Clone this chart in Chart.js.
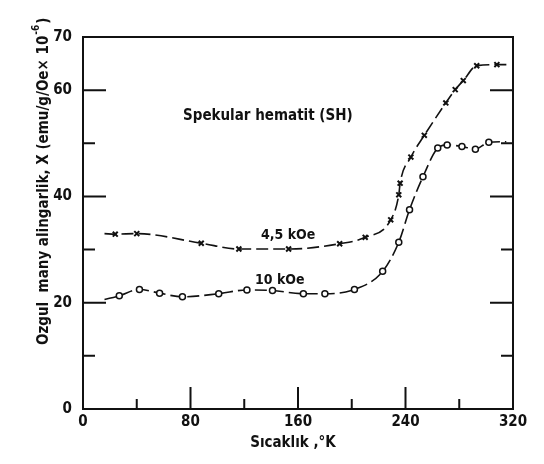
<!DOCTYPE html>
<html>
<head>
<meta charset="utf-8">
<script src="https://cdn.jsdelivr.net/npm/chart.js@4"></script>
<style>
  html, body { margin: 0; padding: 0; background: #fff; }
  #wrap { width: 544px; height: 464px; position: relative; }
</style>
</head>
<body>
<div id="wrap"><canvas id="chart"></canvas></div>
<script>
// temperature (K) and susceptibility (x 10^-6 emu/g/Oe)
const tempHigh = [16, 24, 40, 88, 116, 153, 191, 210, 229, 235, 236, 244, 254, 270, 277, 283, 293, 308, 316];
const chiHigh  = [33.0, 32.9, 33.0, 31.2, 30.1, 30.1, 31.1, 32.3, 35.6, 40.3, 42.5, 47.4, 51.5, 57.6, 60.1, 61.8, 64.6, 64.8, 64.8];

const tempLow = [16, 27, 42, 57, 74, 101, 122, 141, 164, 180, 202, 223, 235, 243, 253, 264, 271, 282, 292, 302, 315];
const chiLow  = [20.6, 21.3, 22.5, 21.8, 21.1, 21.7, 22.4, 22.3, 21.7, 21.7, 22.5, 25.9, 31.4, 37.5, 43.7, 49.1, 49.7, 49.4, 48.9, 50.2, 50.3];

const xLabels = [0, 80, 160, 240, 320];
const yLabels = [0, 20, 40, 60, 70];
const seriesNames = ['4,5 kOe', '10 kOe'];

const FONT = '"Liberation Sans Narrow", "DejaVu Sans Condensed", sans-serif';
const INK = '#111';

function pts(xs, ys) { return xs.map((x, i) => ({ x: x, y: ys[i] })); }
// no marker on first/last point (line ends)
function radii(n, r) { return Array.from({ length: n }, (_, i) => (i === 0 || i === n - 1) ? 0 : r); }

// inward ticks, frame and annotation text
const decor = {
  id: 'decor',
  afterDraw(chart) {
    const { ctx, chartArea: a, scales } = chart;
    const xs = scales.x, ys = scales.y;
    ctx.save();
    ctx.strokeStyle = INK;
    ctx.lineWidth = 2;
    ctx.strokeRect(a.left, a.top, a.right - a.left, a.bottom - a.top);

    ctx.beginPath();
    [10, 20, 30, 40, 50, 60].forEach(v => {
      const py = ys.getPixelForValue(v);
      const len = v % 20 === 0 ? 23 : 12;
      ctx.moveTo(a.left, py); ctx.lineTo(a.left + len, py);
      ctx.moveTo(a.right, py); ctx.lineTo(a.right - len, py);
    });
    [40, 80, 120, 160, 200, 240, 280].forEach(v => {
      const px = xs.getPixelForValue(v);
      const len = v % 80 === 0 ? 22 : 10;
      ctx.moveTo(px, a.bottom); ctx.lineTo(px, a.bottom - len);
    });
    ctx.stroke();

    ctx.fillStyle = INK;
    ctx.textBaseline = 'middle';
    ctx.textAlign = 'left';
    ctx.font = 'bold 15px ' + FONT;
    ctx.fillText('Spekular hematit (SH)', 183, 116);
    ctx.font = 'bold 14px ' + FONT;
    ctx.fillText(seriesNames[0], 261, 235);
    ctx.fillText(seriesNames[1], 255, 280);

    // x title
    ctx.textAlign = 'center';
    ctx.font = 'bold 15px ' + FONT;
    ctx.fillText('Sıcaklık ,°K', 293, 443);

    // y title, rotated
    ctx.translate(44, 345);
    ctx.rotate(-Math.PI / 2);
    ctx.textAlign = 'left';
    ctx.font = 'bold 15px ' + FONT;
    const main = 'Ozgul  many alingarlik, X (emu/g/Oe× 10';
    ctx.fillText(main, 0, 0);
    const w = ctx.measureText(main).width;
    ctx.font = 'bold 10px ' + FONT;
    ctx.fillText('-6', w + 1, -8);
    const w2 = ctx.measureText('-6').width;
    ctx.font = 'bold 15px ' + FONT;
    ctx.fillText(')', w + w2 + 2, 0);
    ctx.restore();
  }
};

new Chart(document.getElementById('chart'), {
  type: 'line',
  data: {
    datasets: [
      {
        label: seriesNames[0],
        data: pts(tempHigh, chiHigh),
        borderColor: INK,
        borderWidth: 1.6,
        borderDash: [12, 5],
        pointStyle: 'crossRot',
        pointRadius: radii(tempHigh.length, 3.5),
        pointBorderWidth: 2,
        pointBorderColor: INK,
        cubicInterpolationMode: 'monotone',
        fill: false
      },
      {
        label: seriesNames[1],
        data: pts(tempLow, chiLow),
        borderColor: INK,
        borderWidth: 1.6,
        borderDash: [12, 5],
        pointStyle: 'circle',
        pointRadius: radii(tempLow.length, 3),
        pointBorderWidth: 1.5,
        pointBorderColor: INK,
        pointBackgroundColor: '#fff',
        cubicInterpolationMode: 'monotone',
        fill: false
      }
    ]
  },
  options: {
    responsive: true,
    maintainAspectRatio: false,
    animation: false,
    layout: { padding: { top: 37, right: 31, left: 0, bottom: 0 } },
    plugins: { legend: { display: false }, tooltip: { enabled: false } },
    scales: {
      x: {
        type: 'linear',
        min: 0, max: 320,
        border: { display: false },
        grid: { display: false },
        afterFit: s => { s.height = 55; },
        ticks: {
          stepSize: 40,
          autoSkip: false,
          maxRotation: 0,
          padding: -4,
          color: INK,
          font: { family: FONT, size: 15, weight: 'bold' },
          callback: v => xLabels.includes(v) ? String(v) : ''
        }
      },
      y: {
        min: 0, max: 70,
        border: { display: false },
        grid: { display: false },
        afterFit: s => { s.width = 83; },
        ticks: {
          stepSize: 10,
          autoSkip: false,
          padding: 3,
          color: INK,
          font: { family: FONT, size: 15, weight: 'bold' },
          callback: v => yLabels.includes(v) ? String(v) : ''
        }
      }
    }
  },
  plugins: [decor]
});
</script>
</body>
</html>
